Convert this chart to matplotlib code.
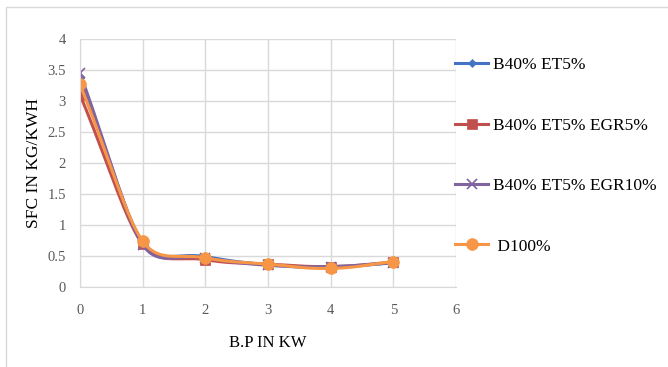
import numpy as np
import matplotlib
matplotlib.use("Agg")
import matplotlib.pyplot as plt
from matplotlib.patches import Rectangle

# brake power (kW) and specific fuel consumption (kg/kWh)
bp = [0, 1, 2, 3, 4, 5]
sfc_b40_et5 = [3.37, 0.71, 0.49, 0.36, 0.32, 0.39]
sfc_b40_et5_egr5 = [3.10, 0.69, 0.44, 0.37, 0.33, 0.40]
sfc_b40_et5_egr10 = [3.45, 0.68, 0.47, 0.35, 0.33, 0.39]
sfc_d100 = [3.27, 0.74, 0.47, 0.37, 0.30, 0.41]

labels = ["B40% ET5%", "B40% ET5% EGR5%", "B40% ET5% EGR10%", " D100%"]
colors = ["#4472C4", "#C0504D", "#8064A2", "#F79646"]
markers = ["D", "s", "x", "o"]
msizes = [4.5, 7, 7, 8.5]


def smooth(x, y, k=1.3, n=40):
    # bezier curve through the points; handle length at each point is set by
    # its shorter neighbouring segment (axes are near-isotropic, data units ok)
    p = np.column_stack([x, y]).astype(float)
    m = len(p)
    seglen = np.hypot(*np.diff(p, axis=0).T)
    tang = np.zeros_like(p)
    hlen = np.zeros(m)
    for i in range(m):
        a = p[max(i - 1, 0)]
        b = p[min(i + 1, m - 1)]
        d = b - a
        tang[i] = d / np.hypot(*d)
        near = [seglen[j] for j in (i - 1, i) if 0 <= j < m - 1]
        hlen[i] = min(min(near) / 3 * k, 0.45 * min(near))
    t = np.linspace(0, 1, n)[:, None]
    pts = []
    for i in range(m - 1):
        c0 = p[i]
        c1 = p[i] + tang[i] * hlen[i]
        c2 = p[i + 1] - tang[i + 1] * hlen[i + 1]
        c3 = p[i + 1]
        pts.append((1 - t) ** 3 * c0 + 3 * (1 - t) ** 2 * t * c1
                   + 3 * (1 - t) * t ** 2 * c2 + t ** 3 * c3)
    pts = np.vstack(pts)
    return pts[:, 0], pts[:, 1]


plt.rcParams['font.family'] = ['Liberation Serif', 'DejaVu Serif']

fig = plt.figure(figsize=(6.68, 3.67), dpi=100)
ax = fig.add_axes([80 / 668, 1 - 287 / 367, 376 / 668, 248 / 367])

# thin outer frame (left and top edges only visible)
fig.patches.append(Rectangle((6 / 668, -0.1), 1.2, 1 - 7 / 367 + 0.1,
                             transform=fig.transFigure, fill=False,
                             edgecolor="#d9d9d9", linewidth=1.0))

series = [sfc_b40_et5, sfc_b40_et5_egr5, sfc_b40_et5_egr10, sfc_d100]
handles = []
for vals, c, m, ms, lbl in zip(series, colors, markers, msizes, labels):
    sx, sy = smooth(bp, vals)
    ax.plot(sx, sy, color=c, linewidth=2.2, solid_capstyle="round")
    ax.plot(bp, vals, linestyle="none", marker=m, markersize=ms, color=c,
            markeredgecolor=c, markeredgewidth=1.2 if m == "x" else 0.5)
    h, = ax.plot([], [], color=c, linewidth=2.2, marker=m, markersize=ms,
                 markeredgecolor=c, markeredgewidth=1.2 if m == "x" else 0.5)
    handles.append(h)

ax.set_xlim(0, 6)
ax.set_ylim(0, 4)
ax.set_xticks(range(0, 7))
ax.set_yticks(np.arange(0, 4.01, 0.5))
ax.set_yticklabels(["0", "0.5", "1", "1.5", "2", "2.5", "3", "3.5", "4"])
ax.grid(True, color="#d9d9d9", linewidth=1.0)
ax.set_axisbelow(True)
for s in ax.spines.values():
    s.set_visible(False)
ax.spines["left"].set_visible(True)
ax.spines["bottom"].set_visible(True)
ax.spines["left"].set_color("#d9d9d9")
ax.spines["bottom"].set_color("#d9d9d9")
ax.tick_params(length=0, labelsize=10.5, labelcolor="#595959", pad=12)
ax.tick_params(axis="y", pad=10)

ax.set_xlabel("B.P IN KW", fontsize=12, labelpad=13)
ax.set_ylabel("SFC IN KG/KWH", fontsize=12.5, labelpad=4)

leg = ax.legend(handles, labels, loc="upper left", bbox_to_anchor=(0.98, 0.955),
                frameon=False, fontsize=12.5, labelspacing=2.55, handlelength=1.9,
                handletextpad=0.25, borderaxespad=0)

fig.savefig("out.png", dpi=100)
